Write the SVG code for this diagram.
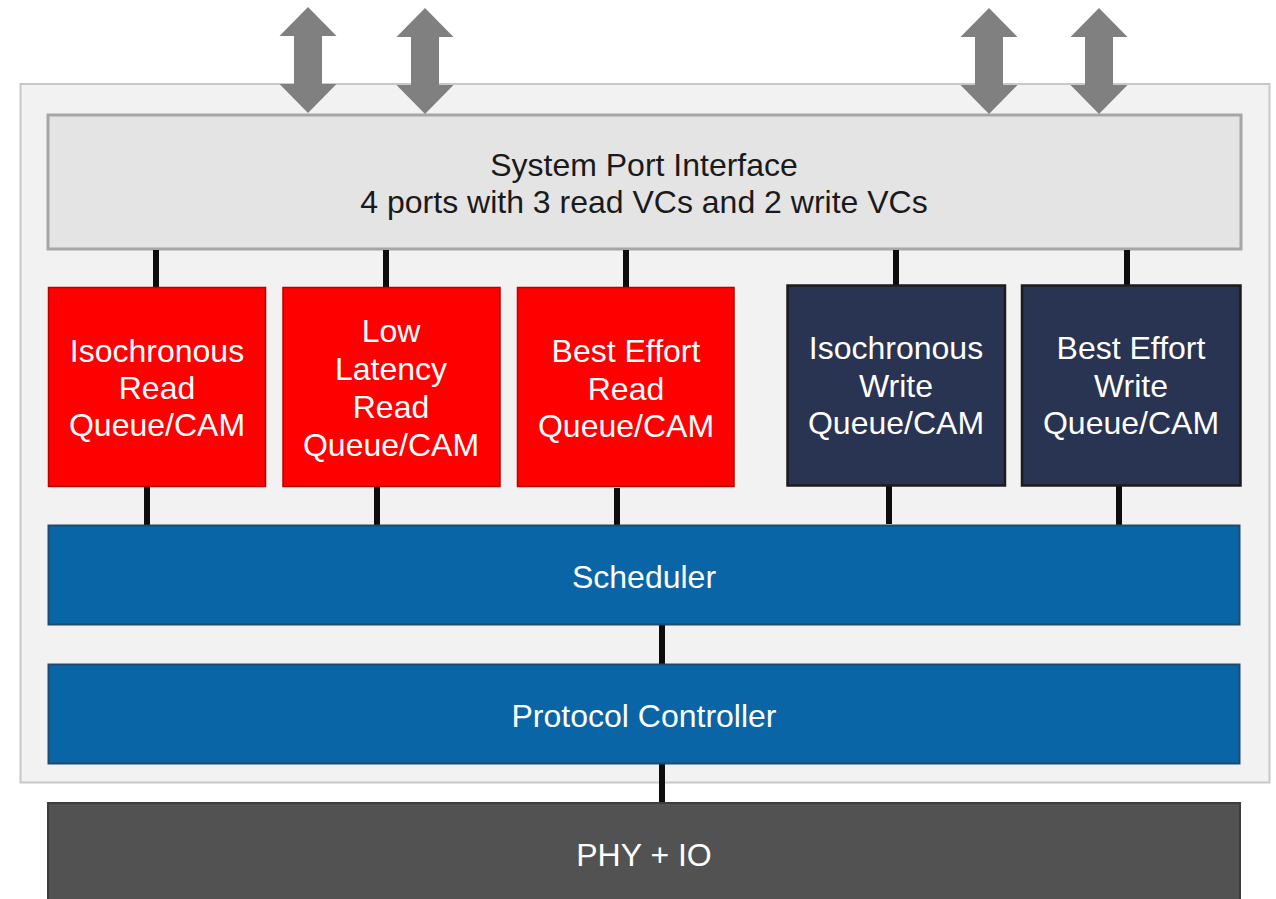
<svg xmlns="http://www.w3.org/2000/svg" xmlns:xlink="http://www.w3.org/1999/xlink" width="1276" height="899" viewBox="0 0 1276 899">
<style>
text{font-family:"Liberation Sans",Arial,sans-serif;font-size:32px;text-anchor:middle}
.w{fill:#ffffff}
.d{fill:#1a1a1a}
.red{fill:#ff0000;stroke:#b80000;stroke-width:1.5}
.navy{fill:#293352;stroke:#1c1c1c;stroke-width:2.5}
.blue{fill:#0a65a6;stroke:#1f4a70;stroke-width:2}
.conn line{stroke:#0d0d0d;stroke-width:6}
.arr{fill:#808080}
</style>
<defs>
<polygon id="dblarrow" class="arr" points="0,0 28.5,29 14,29 14,77 28.5,77 0,106 -28.5,77 -14,77 -14,29 -28.5,29"/>
</defs>
<rect width="1276" height="899" fill="#ffffff"/>
<g id="container">
<rect x="20.5" y="84" width="1249" height="698.5" fill="#f2f2f2" stroke="#c8c8c8" stroke-width="2"/>
</g>
<g id="system-port-interface">
<rect x="48" y="115" width="1193" height="134" fill="#e4e4e4" stroke="#a6a6a6" stroke-width="3"/>
<text class="d" x="644" y="176">System Port Interface</text>
<text class="d" x="644" y="213">4 ports with 3 read VCs and 2 write VCs</text>
</g>
<g id="ports">
<use xlink:href="#dblarrow" x="308" y="7"/>
<use xlink:href="#dblarrow" x="425" y="8"/>
<use xlink:href="#dblarrow" x="989" y="8"/>
<use xlink:href="#dblarrow" x="1099" y="8"/>
</g>
<g class="conn" id="connectors">
<line x1="156" y1="250" x2="156" y2="288"/>
<line x1="386" y1="250" x2="386" y2="288"/>
<line x1="626" y1="250" x2="626" y2="288"/>
<line x1="896" y1="250" x2="896" y2="286"/>
<line x1="1127" y1="250" x2="1127" y2="286"/>
<line x1="147" y1="487" x2="147" y2="526"/>
<line x1="377" y1="487" x2="377" y2="526"/>
<line x1="617" y1="488" x2="617" y2="526"/>
<line x1="889" y1="486" x2="889" y2="524"/>
<line x1="1119" y1="485" x2="1119" y2="527"/>
<line x1="662" y1="625" x2="662" y2="664"/>
<line x1="662" y1="764" x2="662" y2="802"/>
</g>
<g id="iso-read">
<rect class="red" x="48.5" y="287.5" width="217" height="199"/>
<text class="w" x="157" y="362">Isochronous</text>
<text class="w" x="157" y="399">Read</text>
<text class="w" x="157" y="436">Queue/CAM</text>
</g>
<g id="ll-read">
<rect class="red" x="283" y="287.5" width="217" height="199"/>
<text class="w" x="391" y="342">Low</text>
<text class="w" x="391" y="380">Latency</text>
<text class="w" x="391" y="418">Read</text>
<text class="w" x="391" y="456">Queue/CAM</text>
</g>
<g id="be-read">
<rect class="red" x="517.5" y="287.5" width="216.5" height="199"/>
<text class="w" x="626" y="362">Best Effort</text>
<text class="w" x="626" y="400">Read</text>
<text class="w" x="626" y="437">Queue/CAM</text>
</g>
<g id="iso-write">
<rect class="navy" x="787.5" y="285.5" width="217.5" height="200"/>
<text class="w" x="896" y="359">Isochronous</text>
<text class="w" x="896" y="397">Write</text>
<text class="w" x="896" y="434">Queue/CAM</text>
</g>
<g id="be-write">
<rect class="navy" x="1022" y="285.5" width="218.5" height="200"/>
<text class="w" x="1131" y="359">Best Effort</text>
<text class="w" x="1131" y="397">Write</text>
<text class="w" x="1131" y="434">Queue/CAM</text>
</g>
<g id="scheduler">
<rect class="blue" x="48.5" y="525.5" width="1191" height="99"/>
<text class="w" x="644" y="588">Scheduler</text>
</g>
<g id="protocol-controller">
<rect class="blue" x="48.5" y="664.5" width="1191" height="99"/>
<text class="w" x="644" y="727">Protocol Controller</text>
</g>
<g id="phy-io">
<rect x="48" y="803" width="1192" height="100" fill="#525252" stroke="#3d3d3d" stroke-width="2"/>
<text class="w" x="644" y="866">PHY + IO</text>
</g>
</svg>
